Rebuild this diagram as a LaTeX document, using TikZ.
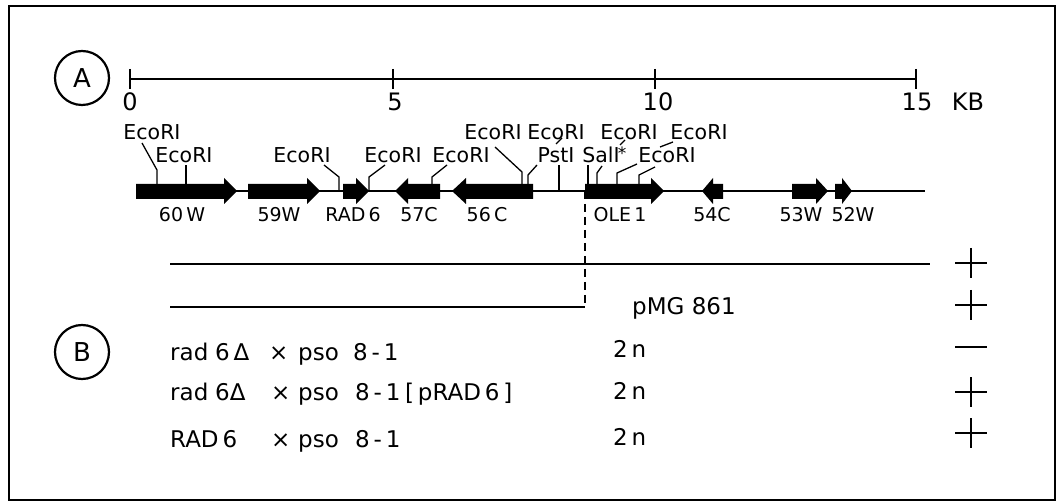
\documentclass[tikz,border=0pt]{standalone}
\usepackage{fontspec}
\setmainfont{DejaVu Sans}
\newcommand\fs[1]{\fontsize{#1}{#1}\selectfont}
\newcommand\rgene[3]{\fill (#1,184) -- (#2,184) -- (#2,178) -- (#3,191) -- (#2,204) -- (#2,199) -- (#1,199) -- cycle;}
\newcommand\lgene[3]{\fill (#3,184) -- (#2,184) -- (#2,178) -- (#1,191) -- (#2,204) -- (#2,199) -- (#3,199) -- cycle;}
\newcommand\pmark[2]{\draw[signmark] (955,#2) -- (987,#2); \ifnum#1=1 \draw[signmark] (971,#2-15) -- (971,#2+15);\fi}
\tikzset{
  site/.style={font=\fs{20.5}, inner sep=0pt, anchor=base},
  gene/.style={font=\fs{19}, inner sep=0pt, anchor=base},
  scalelab/.style={font=\fs{24}, inner sep=0pt, anchor=base},
  btext/.style={font=\fs{23}, inner sep=0pt, anchor=base west},
  leader/.style={line width=1.3pt},
  signmark/.style={line width=2.3pt},
  letter/.style={circle, draw, line width=2.2pt, minimum size=54pt, inner sep=0pt, font=\fs{26}},
}
\begin{document}
\begin{tikzpicture}[x=1pt,y=-1pt]
\useasboundingbox (0,0) rectangle (1057,502);
\draw[line width=2pt] (9,6) rectangle (1055,500);

% Part A
\node[letter] (A) at (82,78) {A};
\draw[line width=1.4pt] (130,79) -- (916,79);
\foreach \x in {130,393,655,916} \draw[line width=1.6pt] (\x,69) -- (\x,89);
\node[scalelab] (s0) at (130,111) {0};
\node[scalelab] (s5) at (395,111) {5};
\node[scalelab] (s10) at (658,111) {10};
\node[scalelab] (s15) at (917,111) {15};
\node[scalelab] (kb) at (968,111) {KB};

% gene line and genes
\draw[line width=1.5pt] (136,191) -- (925,191);
\rgene{136}{224}{237}
\rgene{248}{307}{320}
\rgene{343}{356}{369}
\lgene{395}{408}{440}
\lgene{452}{466}{533}
\rgene{585}{651}{664}
\lgene{702}{713}{723}
\rgene{792}{816}{828}
\rgene{835}{842}{852}

\node[gene] (g60) at (182,222) {60\,W};
\node[gene] (g59) at (279,222) {59W};
\node[gene] (grad) at (353,222) {RAD\,6};
\node[gene] (g57) at (419,222) {57C};
\node[gene] (g56) at (487,222) {56\,C};
\node[gene] (gole) at (620,222) {OLE\,1};
\node[gene] (g54) at (712,222) {54C};
\node[gene] (g53) at (801,222) {53W};
\node[gene] (g52) at (853,222) {52W};

% restriction sites
\node[site] (e1) at (152,140) {EcoRI};
\node[site] (e2) at (184,163) {EcoRI};
\node[site] (e3) at (302,163) {EcoRI};
\node[site] (e4) at (393,163) {EcoRI};
\node[site] (e5) at (461,163) {EcoRI};
\node[site] (e6) at (493,140) {EcoRI};
\node[site] (e7) at (556,140) {EcoRI};
\node[site] (pst) at (556,163) {PstI};
\node[site] (sal) at (601,163) {SalI};
\node[site] (e8) at (629,140) {EcoRI};
\node[site] (e9) at (699,140) {EcoRI};
\node[site] (e10) at (667,163) {EcoRI};
\node[font=\fs{17}, inner sep=0pt] (ast) at (622,153) {*};

\draw[leader] (157,185) -- (157,170) -- (142,143);
\draw[leader] (186,185) -- (186,165);
\draw[leader] (339,191) -- (339,177) -- (324,165);
\draw[leader] (369,191) -- (369,177) -- (385,165);
\draw[leader] (432,185) -- (432,177) -- (447,165);
\draw[leader] (522,185) -- (522,172) -- (495,147);
\draw[leader] (528,185) -- (528,175) -- (537,165);
\draw[leader] (556,144) -- (562,138);
\draw[leader] (559,191) -- (559,165);
\draw[leader] (588,185) -- (588,165);
\draw[leader] (597,185) -- (597,173) -- (602,166);
\draw[leader] (617,185) -- (617,173) -- (637,164);
\draw[leader] (620,145) -- (625,140);
\draw[leader] (639,185) -- (639,175) -- (655,167);
\draw[leader] (660,147) -- (673,142);

% Part B
\draw[line width=1.8pt] (170,264) -- (930,264);
\draw[line width=1.8pt] (170,307) -- (585,307);
\draw[line width=1.5pt, dash pattern=on 8pt off 5pt] (585,191) -- (585,307);
\node[btext] (pmg) at (632,315) {pMG 861};

\node[letter] (B) at (82,352) {B};

\node[btext] (r1a) at (170,360) {rad};
\node[btext] (r1b) at (215,360) {6\,Δ};
\node[btext] (r1c) at (269,360) {×};
\node[btext] (r1d) at (298,360) {pso};
\node[btext] (r1e) at (353,360) {8\,-\,1};
\node[btext] (n1) at (613,358) {2\,n};

\node[btext] (r2a) at (170,400) {rad};
\node[btext] (r2b) at (215,400) {6Δ};
\node[btext] (r2c) at (271,400) {×};
\node[btext] (r2d) at (298,400) {pso};
\node[btext] (r2e) at (355,400) {8\,-\,1};
\node[btext] (r2f) at (405,400) {[\,pRAD\,6\,]};
\node[btext] (n2) at (613,399) {2\,n};

\node[btext] (r3a) at (170,447) {RAD\,6};
\node[btext] (r3c) at (271,447) {×};
\node[btext] (r3d) at (298,447) {pso};
\node[btext] (r3e) at (355,447) {8\,-\,1};
\node[btext] (n3) at (613,445) {2\,n};

\pmark{1}{263}
\pmark{1}{305}
\pmark{0}{347}
\pmark{1}{392}
\pmark{1}{433}
\end{tikzpicture}
\end{document}
